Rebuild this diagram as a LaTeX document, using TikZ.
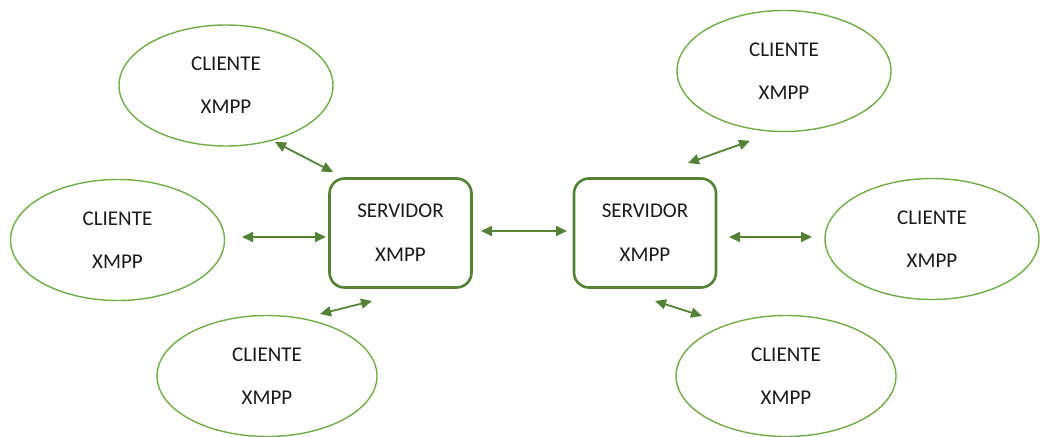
\documentclass[tikz,border=0pt]{standalone}
\usepackage{fontspec}
\setmainfont{Carlito}
\usetikzlibrary{shapes.geometric,arrows.meta}
\definecolor{lightgreen}{HTML}{70AD47}
\definecolor{darkgreen}{HTML}{548235}
\definecolor{textgray}{HTML}{1A1A1A}
\tikzset{
  cliente/.style={draw=lightgreen, line width=1.4pt, ellipse, minimum width=214pt, minimum height=121pt,
    inner sep=0pt, text=textgray, font=\fontsize{21}{43}\selectfont, align=center},
  servidor/.style={draw=darkgreen, line width=2.6pt, rectangle, rounded corners=15pt,
    minimum width=142pt, minimum height=109pt, text=textgray, font=\fontsize{21}{44}\selectfont, align=center},
  link/.style={draw=darkgreen, line width=1.8pt, {Triangle[length=11pt,width=10pt]}-{Triangle[length=11pt,width=10pt]}}
}
\begin{document}
\begin{tikzpicture}[x=1pt,y=-1pt]
  \useasboundingbox (0,0) rectangle (1040,436);

  % servers
  \node[servidor] (s1) at (400.5,233) {SERVIDOR\\XMPP};
  \node[servidor] (s2) at (645,233) {SERVIDOR\\XMPP};

  % clients
  \node[cliente] (c1) at (226,85.5) {CLIENTE\\XMPP};
  \node[cliente] (c2) at (117.5,240) {CLIENTE\\XMPP};
  \node[cliente, minimum width=220pt] (c3) at (267,376) {CLIENTE\\XMPP};
  \node[cliente] (c4) at (784,71) {CLIENTE\\XMPP};
  \node[cliente] (c5) at (932,239) {CLIENTE\\XMPP};
  \node[cliente, minimum width=220pt] (c6) at (786,376) {CLIENTE\\XMPP};

  % arrow end points
  \coordinate (a1) at (275,142);  \coordinate (b1) at (333,172);
  \coordinate (a2) at (242,237);  \coordinate (b2) at (326,237);
  \coordinate (a3) at (320,314);  \coordinate (b3) at (372,301);
  \coordinate (a4) at (481,231);  \coordinate (b4) at (567,231);
  \coordinate (a5) at (688,163);  \coordinate (b5) at (750,141);
  \coordinate (a6) at (729,237);  \coordinate (b6) at (812,237);
  \coordinate (a7) at (655,301);  \coordinate (b7) at (702,316);

  \draw[link] (a1) -- (b1);
  \draw[link] (a2) -- (b2);
  \draw[link] (a3) -- (b3);
  \draw[link] (a4) -- (b4);
  \draw[link] (a5) -- (b5);
  \draw[link] (a6) -- (b6);
  \draw[link] (a7) -- (b7);
\end{tikzpicture}
\end{document}
